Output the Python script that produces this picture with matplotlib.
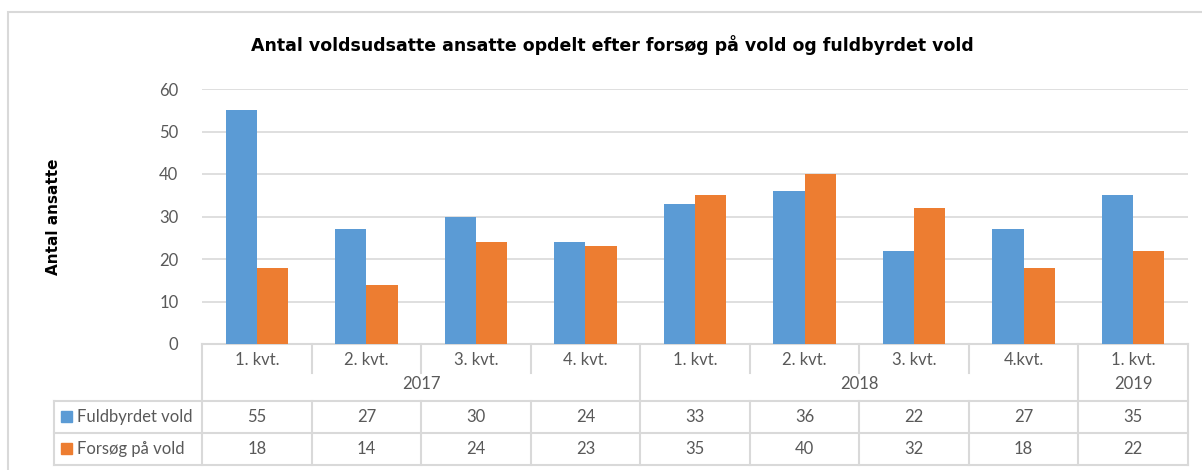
import numpy as np
import matplotlib.pyplot as plt
from matplotlib.patches import Rectangle

plt.rcParams['font.family'] = ['Lato', 'DejaVu Sans']

# data
kvartaler = ['1. kvt.', '2. kvt.', '3. kvt.', '4. kvt.', '1. kvt.', '2. kvt.', '3. kvt.', '4.kvt.', '1. kvt.']
aar = ['2017', '2018', '2019']
aar_antal = [4, 4, 1]  # kvartaler pr. aar
fuldbyrdet = [55, 27, 30, 24, 33, 36, 22, 27, 35]
forsoeg = [18, 14, 24, 23, 35, 40, 32, 18, 22]
serier = ['Fuldbyrdet vold', 'Forsøg på vold']
farver = ['#5B9BD5', '#ED7D31']

W, H = 1202, 470
fig = plt.figure(figsize=(W / 100, H / 100), dpi=100)

# plot area in pixels
px_l, px_r, px_t, px_b = 202, 1188, 89, 344
ax = fig.add_axes([px_l / W, (H - px_b) / H, (px_r - px_l) / W, (px_b - px_t) / H])

n = len(kvartaler)
x = np.arange(n)
bw = 0.285
ax.bar(x - bw / 2, fuldbyrdet, bw, color=farver[0], zorder=3)
ax.bar(x + bw / 2, forsoeg, bw, color=farver[1], zorder=3)

ax.set_xlim(-0.5, n - 0.5)
ax.set_ylim(0, 60)
ax.set_yticks(range(0, 61, 10))
ax.tick_params(axis='y', length=0, pad=17, labelsize=12, labelcolor='#595959')
ax.set_xticks([])
for s in ax.spines.values():
    s.set_visible(False)
ax.yaxis.grid(True, color='#d9d9d9', linewidth=1.2, zorder=0)

grid_c = '#d9d9d9'
tekst_c = '#595959'
ph = px_b - px_t


def fy(py):
    # pixel y -> axes fraction
    return (px_b - py) / ph


def fx(px):
    # pixel x -> data x
    return -0.5 + (px - px_l) / (px_r - px_l) * n


tr = ax.get_xaxis_transform()
lk = dict(color=grid_c, linewidth=1.5, transform=tr, clip_on=False)
tk = dict(transform=tr, clip_on=False, ha='center', va='center', color=tekst_c, fontsize=12)

# horizontal table lines
ax.plot([-0.5, n - 0.5], [fy(344), fy(344)], **lk)
ax.plot([fx(54), n - 0.5], [fy(401), fy(401)], **lk)
ax.plot([fx(54), n - 0.5], [fy(433), fy(433)], **lk)
ax.plot([fx(54), n - 0.5], [fy(465), fy(465)], **lk)

# vertical lines in the category rows
grænser = np.cumsum([0] + aar_antal) - 0.5
for i in range(n + 1):
    b = i - 0.5
    if b in grænser:
        ax.plot([b, b], [fy(344), fy(465)], **lk)
    else:
        ax.plot([b, b], [fy(344), fy(373)], **lk)
        ax.plot([b, b], [fy(401), fy(465)], **lk)
ax.plot([fx(54), fx(54)], [fy(401), fy(465)], **lk)

# category labels
for i, k in enumerate(kvartaler):
    ax.text(i, fy(360), k, **tk)
for j, a in enumerate(aar):
    ax.text((grænser[j] + grænser[j + 1]) / 2, fy(384), a, **tk)

# values and legend keys
for r, (navn, vals) in enumerate(zip(serier, [fuldbyrdet, forsoeg])):
    yc = fy(417 + 32 * r)
    for i, v in enumerate(vals):
        ax.text(i, yc, str(v), **tk)
    ax.add_patch(Rectangle((fx(61), fy(422 + 32 * r)), fx(72) - fx(61), fy(411) - fy(422),
                           transform=tr, clip_on=False, color=farver[r]))
    ax.text(fx(77), yc, navn, transform=tr, clip_on=False, ha='left', va='center',
            color=tekst_c, fontsize=12)

# title and y label
fig.text(612 / W, 1 - 45 / H, 'Antal voldsudsatte ansatte opdelt efter forsøg på vold og fuldbyrdet vold',
         ha='center', va='center', fontsize=12.5, fontweight='bold', color='black',
         family='DejaVu Sans')
fig.text(54 / W, 1 - 217 / H, 'Antal ansatte', rotation=90, ha='center', va='center',
         fontsize=11, fontweight='bold', color='black', family='DejaVu Sans')

# chart border
fig.add_artist(Rectangle((8 / W, -0.1), 1.2, 1 - 12 / H + 0.1, transform=fig.transFigure,
                         fill=False, edgecolor='#d9d9d9', linewidth=1.5))

fig.savefig('out.png', dpi=100)
